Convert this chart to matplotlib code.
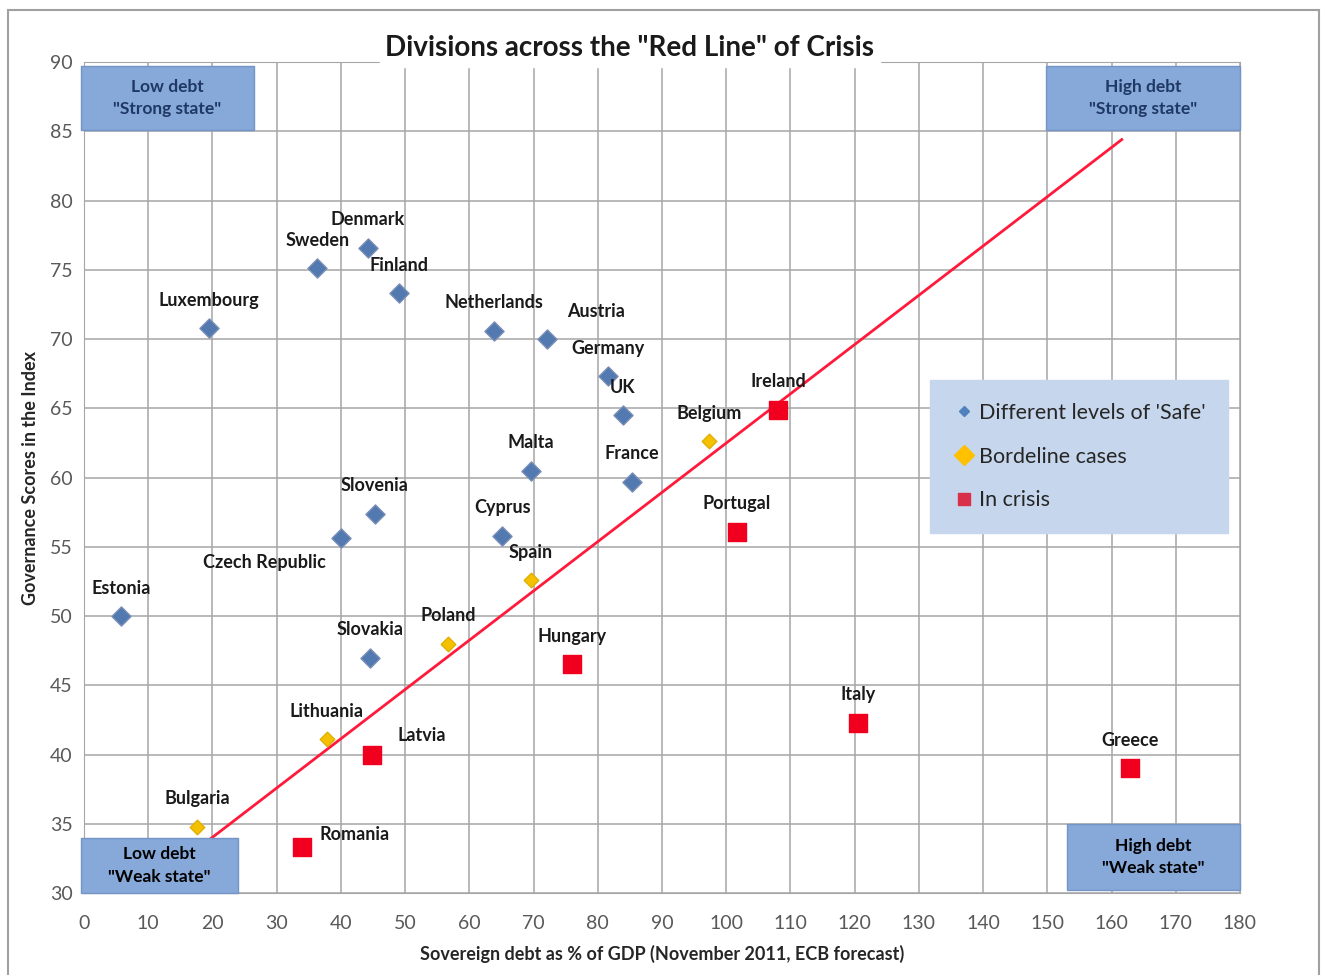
import matplotlib
matplotlib.use("Agg")
import matplotlib.pyplot as plt
from matplotlib.patches import Rectangle
from matplotlib.lines import Line2D

plt.rcParams['font.family'] = ['Lato', 'DejaVu Sans']

# data: sovereign debt (% GDP) vs governance score
safe_names = ["Denmark", "Sweden", "Finland", "Luxembourg", "Netherlands", "Austria",
              "Germany", "UK", "Malta", "France", "Slovenia", "Czech Republic",
              "Cyprus", "Estonia", "Slovakia"]
safe_debt = [44.2, 36.3, 49.0, 19.5, 63.8, 72.1, 81.6, 83.9, 69.6, 85.3, 45.3, 40.0, 65.1, 5.8, 44.5]
safe_score = [76.6, 75.1, 73.3, 70.8, 70.6, 70.0, 67.3, 64.5, 60.5, 59.7, 57.4, 55.6, 55.8, 50.0, 47.0]

border_names = ["Spain", "Poland", "Lithuania", "Bulgaria", "Belgium"]
border_debt = [69.6, 56.7, 37.8, 17.6, 97.3]
border_score = [52.6, 48.0, 41.1, 34.8, 62.6]

crisis_names = ["Hungary", "Latvia", "Romania", "Ireland", "Portugal", "Italy", "Greece"]
crisis_debt = [76.0, 44.8, 33.9, 108.1, 101.7, 120.5, 162.9]
crisis_score = [46.5, 40.0, 33.3, 64.9, 56.1, 42.3, 39.0]

# the "red line"
line_debt = [8.7, 161.6]
line_score = [30.0, 84.4]

# label offsets in points (default is straight above)
offsets = {"Austria": (35, 20), "Czech Republic": (-55, -17), "Latvia": (36, 14), "Romania": (38, 9)}

fig = plt.figure(figsize=(13.27, 9.75), dpi=100)
ax = fig.add_axes([0.0633, 0.0841, 0.8711, 0.8523])

ax.set_xlim(0, 180)
ax.set_ylim(30, 90)
ax.set_xticks(range(0, 181, 10))
ax.set_yticks(range(30, 91, 5))
ax.grid(True, color='#a6a6a6', linewidth=1.1)
ax.set_axisbelow(True)
for s in ax.spines.values():
    s.set_color('#a6a6a6')
ax.tick_params(length=0, labelsize=14, colors='#595959')
ax.tick_params(axis='x', pad=16)
ax.tick_params(axis='y', pad=8)

ax.plot(line_debt, line_score, color='#ff1a3c', linewidth=2, zorder=3)

# quadrant boxes (drawn over the line)
box_col = '#86a9d9'
quads = [((-0.5, 85.1), 27.0, 4.6, "Low debt\n\"Strong state\"", '#1f3864'),
         ((149.8, 85.1), 30.2, 4.6, "High debt\n\"Strong state\"", '#1f3864'),
         ((-0.5, 30.0), 24.5, 4.0, "Low debt\n\"Weak state\"", 'black'),
         ((153.0, 30.2), 27.0, 4.8, "High debt\n\"Weak state\"", 'black')]
for (x0, y0), w, h, txt, tc in quads:
    ax.add_patch(Rectangle((x0, y0), w, h, facecolor=box_col, edgecolor='#7394c4',
                           linewidth=1, zorder=3.5, clip_on=False))
    ax.text(x0 + w / 2, y0 + h / 2, txt, ha='center', va='center', fontsize=12.5,
            fontweight='bold', color=tc, linespacing=1.5, zorder=3.6)

ax.scatter(safe_debt, safe_score, marker='D', s=95, color='#5279b0', edgecolor='#7a8fb5', zorder=4)
ax.scatter(border_debt, border_score, marker='D', s=55, color='#f5c000', edgecolor='#e0b000', zorder=4)
ax.scatter(crisis_debt, crisis_score, marker='s', s=170, color='#f0001e', zorder=4)

for names, xs, ys in [(safe_names, safe_debt, safe_score),
                      (border_names, border_debt, border_score),
                      (crisis_names, crisis_debt, crisis_score)]:
    for n, x, y in zip(names, xs, ys):
        dx, dy = offsets.get(n, (0, 20))
        ax.annotate(n, (x, y), xytext=(dx, dy), textcoords='offset points',
                    ha='center', va='center', fontsize=13, fontweight='bold',
                    color='#1a1a1a', zorder=5)

handles = [Line2D([], [], marker='D', linestyle='none', color='#4f81bd', markersize=5),
           Line2D([], [], marker='D', linestyle='none', color='#ffc000', markersize=10),
           Line2D([], [], marker='s', linestyle='none', color='#d9304a', markersize=8)]
leg = ax.legend(handles, ["Different levels of 'Safe'", "Bordeline cases", "In crisis"],
                loc='upper left', bbox_to_anchor=(0.732, 0.617), borderaxespad=0,
                frameon=True, fancybox=False, facecolor='#c6d6ec', edgecolor='#c6d6ec',
                framealpha=1, fontsize=15.5, handletextpad=0.2, handlelength=1.0,
                labelspacing=1.1, borderpad=1.05)
leg.set_zorder(6)
for t in leg.get_texts():
    t.set_color('#262626')

ax.set_title('Divisions across the "Red Line" of Crisis', fontsize=20, fontweight='bold',
             color='#1a1a1a', pad=4, x=0.472, backgroundcolor='white')
ax.set_xlabel('Sovereign debt as % of GDP (November 2011, ECB forecast)', fontsize=13,
              fontweight='bold', color='#262626', labelpad=9)
ax.set_ylabel('Governance Scores in the Index', fontsize=13, fontweight='bold',
              color='#262626', labelpad=8)

fig.patches.append(Rectangle((0.006, -0.01), 0.988, 1.0, transform=fig.transFigure,
                             fill=False, edgecolor='#a0a0a0', linewidth=1.5))

fig.savefig("out.png", dpi=100)
